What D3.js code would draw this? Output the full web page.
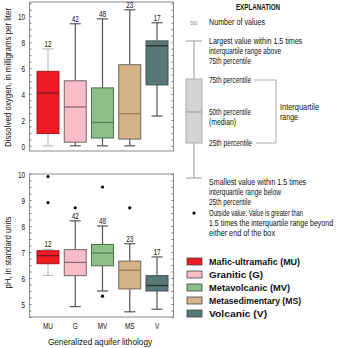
<!DOCTYPE html>
<html><head><meta charset="utf-8">
<script src="https://cdn.jsdelivr.net/npm/d3@7"></script>
<style>
body{margin:0;background:#fff;}
svg{display:block;font-family:"Liberation Sans",Arial,sans-serif;}
</style></head><body>
<svg id="c" width="337" height="348"></svg>
<script>
// ---- data ----
const categories = ["MU","G","MV","MS","V"];
const counts = [12,42,48,23,17];
const fills = ["#ed1c24","#f9bdca","#8dbf88","#d5b48a","#587875"];
const strokes = ["#a8181d","#6f6466","#4d6e4a","#6f665c","#3f5553"];
const medianColors = ["#7a1416","#8a6a70","#5c7f59","#9a7f60","#22302f"];
const whiskerColors = ["#bdbdbd","#555","#555","#555","#555"];

// Dissolved oxygen (mg/L)
const doLow    = [0, 0, 0, 0, 2.3];
const doQ1     = [0.95, 0.28, 0.6, 0.52, 4.7];
const doMedian = [4.08, 3.0, 1.8, 2.48, 7.72];
const doQ3     = [5.75, 5.02, 4.47, 6.26, 8.1];
const doHigh   = [7.48, 9.42, 9.8, 10.5, 9.5];
const doOutliers = [[],[],[],[],[]];
const doTicks = [0,2,4,6,8,10];

// pH (standard units)
const phLow    = [6.1, 4.9, 5.5, 4.7, 4.8];
const phQ1     = [6.55, 6.09, 6.47, 5.58, 5.5];
const phMedian = [6.86, 6.6, 6.96, 6.3, 5.71];
const phQ3     = [7.05, 7.09, 7.29, 6.65, 6.09];
const phHigh   = [7.1, 8.2, 8.0, 7.32, 6.81];
const phOutliers = [[9.9, 8.9],[8.7],[9.5, 5.3],[8.7],[]];
const phTicks = [5,6,7,8,9,10];

const legendLabels = ["Mafic-ultramafic (MU)","Granitic (G)","Metavolcanic (MV)","Metasedimentary (MS)","Volcanic (V)"];
const legendWidths = [91,54,81,92,58];

// ---- helpers ----
const svg = d3.select("#c");
const SX = 0.68; // horizontal compression for condensed look
const FS = 9.4;
const INK = "#111";
function T(parent, str, x, y, o={}){
  const t = parent.append("text")
    .attr("font-size", o.size || FS)
    .attr("fill", o.fill || INK)
    .attr("text-anchor", o.anchor || "start")
    .text(str);
  if (o.weight) t.attr("font-weight", o.weight);
  let s = o.sx || SX;
  if (o.width){
    const natural = t.node().getComputedTextLength();
    s = o.width / natural;
  }
  t.attr("transform", `translate(${x},${y})` + (o.rotate?` rotate(${o.rotate})`:"") + ` scale(${s},1)`);
  return t;
}

const frameL = 29.5, frameR = 173.5;
const x = d3.scalePoint().domain(categories).range([48, 157]);
const boxW = 22, capW = 11;

function panel(cfg){
  const y = d3.scaleLinear().domain(cfg.domain).range([cfg.bottom, cfg.top]);
  const g = svg.append("g");
  g.append("rect").attr("x", frameL).attr("y", cfg.top).attr("width", frameR-frameL).attr("height", cfg.bottom-cfg.top)
    .attr("fill","none").attr("stroke","#8a8a8a").attr("stroke-width",1);
  const minor = d3.range(Math.ceil(cfg.domain[0]/cfg.minor)*cfg.minor, cfg.domain[1]+1e-9, cfg.minor);
  g.append("g").attr("transform",`translate(${frameL},0)`)
    .call(d3.axisRight(y).tickValues(minor).tickSize(2).tickFormat(""))
    .call(a=>{a.select(".domain").remove(); a.selectAll("line").attr("stroke","#777");});
  g.append("g").attr("transform",`translate(${frameR},0)`)
    .call(d3.axisLeft(y).tickValues(minor).tickSize(2).tickFormat(""))
    .call(a=>{a.select(".domain").remove(); a.selectAll("line").attr("stroke","#777");});
  g.append("g").attr("transform",`translate(${frameL},0)`)
    .call(d3.axisLeft(y).tickValues(cfg.ticks).tickSize(0).tickPadding(0).tickFormat(d3.format("d")))
    .call(a=>{a.select(".domain").remove();
      a.selectAll("text").attr("font-family",null).attr("font-size",FS).attr("fill",INK)
        .attr("x",null).attr("dy","0.34em").attr("transform",`translate(-4.5,0) scale(${SX},1)`);});
  T(g, cfg.title, cfg.titleX, cfg.titleY, {anchor:"middle", width:cfg.titleW, rotate:-90});

  categories.forEach((c,i)=>{
    const cx = x(c);
    const wc = whiskerColors[i];
    g.append("line").attr("x1",cx).attr("x2",cx).attr("y1",y(cfg.high[i])).attr("y2",y(cfg.q3[i])).attr("stroke",wc).attr("stroke-width",1.2);
    g.append("line").attr("x1",cx).attr("x2",cx).attr("y1",y(cfg.q1[i])).attr("y2",y(cfg.low[i])).attr("stroke",wc).attr("stroke-width",1.2);
    g.append("line").attr("x1",cx-capW/2).attr("x2",cx+capW/2).attr("y1",y(cfg.high[i])).attr("y2",y(cfg.high[i])).attr("stroke",wc).attr("stroke-width",1.2);
    g.append("line").attr("x1",cx-capW/2).attr("x2",cx+capW/2).attr("y1",y(cfg.low[i])).attr("y2",y(cfg.low[i])).attr("stroke",wc).attr("stroke-width",1.2);
    g.append("rect").attr("x",cx-boxW/2).attr("width",boxW).attr("y",y(cfg.q3[i])).attr("height",y(cfg.q1[i])-y(cfg.q3[i]))
      .attr("fill",fills[i]).attr("stroke",strokes[i]).attr("stroke-width",1);
    g.append("line").attr("x1",cx-boxW/2).attr("x2",cx+boxW/2).attr("y1",y(cfg.med[i])).attr("y2",y(cfg.med[i]))
      .attr("stroke",medianColors[i]).attr("stroke-width",1.3);
    cfg.out[i].forEach(v=>{
      g.append("circle").attr("cx",cx).attr("cy",y(v)).attr("r",1.6).attr("fill","#000");
    });
    T(g, String(counts[i]), cx, y(cfg.high[i])-2, {anchor:"middle"});
  });
  return y;
}

panel({domain:[-0.4,11.1], top:2, bottom:151, minor:0.5, ticks:doTicks,
  title:"Dissolved oxygen, in milligrams per liter", titleX:10.5, titleY:77.5, titleW:139,
  low:doLow,q1:doQ1,med:doMedian,q3:doQ3,high:doHigh,out:doOutliers});
panel({domain:[4.5,10], top:174, bottom:317, minor:0.25, ticks:phTicks,
  title:"pH, in standard units", titleX:10.5, titleY:252.5, titleW:72,
  low:phLow,q1:phQ1,med:phMedian,q3:phQ3,high:phHigh,out:phOutliers});

// x axis labels
const XL = svg.append("g");
categories.forEach(c=>T(XL, c, x(c), 329, {anchor:"middle"}));
T(svg, "Generalized aquifer lithology", 100, 345, {anchor:"middle", width:104});

// ---- explanation ----
const E = svg.append("g");
const ex = 194, tx = 209;
T(E, "EXPLANATION", 258, 10, {anchor:"middle", weight:"bold", width:44});
T(E, "500", ex, 25, {anchor:"middle", size:6, fill:"#777"});
T(E, "Number of values", tx, 25, {width:56});
const lg = "#999";
E.append("line").attr("x1",ex).attr("x2",ex).attr("y1",41).attr("y2",178).attr("stroke",lg);
E.append("line").attr("x1",186).attr("x2",202).attr("y1",41).attr("y2",41).attr("stroke",lg);
E.append("line").attr("x1",186).attr("x2",202).attr("y1",178).attr("y2",178).attr("stroke",lg);
E.append("rect").attr("x",186).attr("y",79).attr("width",16).attr("height",64).attr("fill","#d4d4d4").attr("stroke","#aaa");
E.append("line").attr("x1",186).attr("x2",202).attr("y1",112).attr("y2",112).attr("stroke","#999");
[["Largest value within 1.5 times",44,93],["interquartile range above",54,72],["75th percentile",64,42],
 ["75th percentile",83,42],["50th percentile",115,42],["(median)",125,27],["25th percentile",146,43],
 ["Smallest value within 1.5 times",185,97],["interquartile range below",195,72],["25th percentile",205,42],
 ["Outside value: Value is greater than",216,94],["1.5 times the interquartile range beyond",226,124],["either end of the box",236,66]]
 .forEach(([t,yy,w])=>T(E, t, tx, yy, {width:w}));
E.append("path").attr("d","M254,80H276V143H256").attr("fill","none").attr("stroke","#aaa");
T(E, "Interquartile", 280, 110, {width:39});
T(E, "range", 280, 120, {width:18});
E.append("circle").attr("cx",ex).attr("cy",213).attr("r",1.6).attr("fill","#000");

// colour legend
const L = svg.append("g");
legendLabels.forEach((t,i)=>{
  const yy = 258 + i*13;
  L.append("rect").attr("x",187).attr("y",yy).attr("width",15).attr("height",7).attr("fill",fills[i]).attr("stroke","#444").attr("stroke-width",0.8);
  T(L, t, tx, yy+7, {weight:"bold", width:legendWidths[i]});
});
</script></body></html>
